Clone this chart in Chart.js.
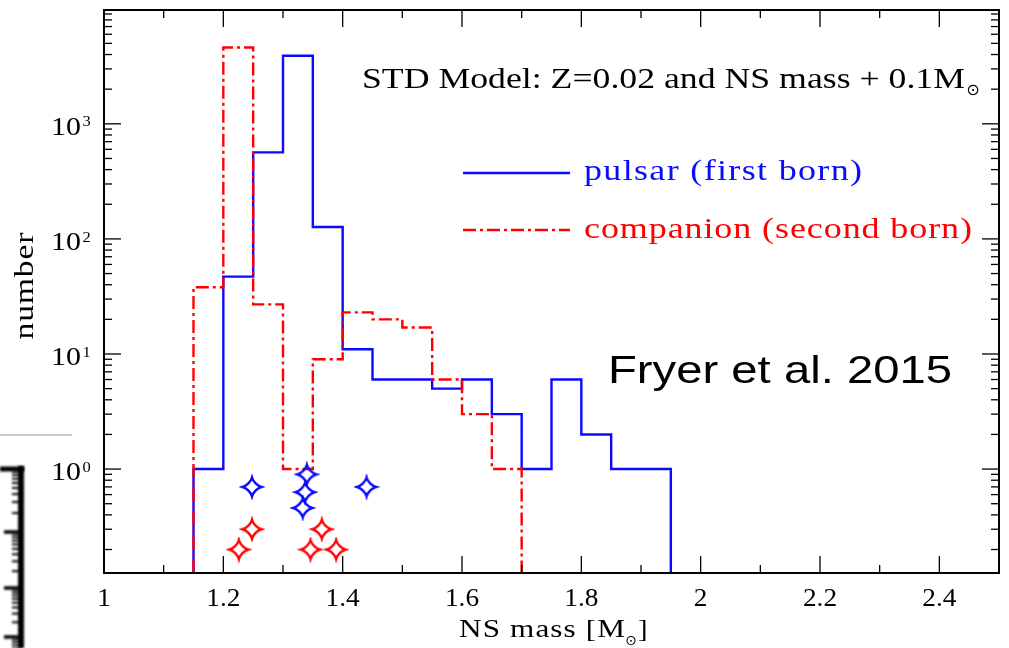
<!DOCTYPE html>
<html lang="en">
<head>
<meta charset="utf-8">
<title>NS mass distribution</title>
<script src="https://cdn.jsdelivr.net/npm/chart.js@4/dist/chart.umd.min.js"></script>
<style>
  html, body { margin: 0; padding: 0; background: #fff; }
  canvas { display: block; }
</style>
</head>
<body>
<canvas id="massChart" width="1009" height="648"></canvas>
<script>
// ======================================================================
//  1. DONNÉES
// ======================================================================

// Bords des classes de masse (largeur 0.05 Msun)
const binEdges = [1.15, 1.20, 1.25, 1.30, 1.35, 1.40, 1.45, 1.50, 1.55,
                  1.60, 1.65, 1.70, 1.75, 1.80, 1.85, 1.90, 1.95];

// Nombre de systèmes par classe
const pulsarCounts    = [1, 47, 565, 3900, 127, 11, 6, 6, 5, 6, 3, 1, 6, 2, 1, 1];
const companionCounts = [38, 4600, 27, 1, 9, 23, 20, 17, 6, 3, 1];

// Masses observées (étoiles), hauteur arbitraire sous l'histogramme
const pulsarObsMass    = [1.248, 1.340, 1.337, 1.333, 1.440];
const pulsarObsY       = [0.70, 0.90, 0.63, 0.46, 0.70];
const companionObsMass = [1.226, 1.248, 1.346, 1.365, 1.389];
const companionObsY    = [0.20, 0.30, 0.20, 0.30, 0.20];

// Graduations
const xTickValues = [1, 1.2, 1.4, 1.6, 1.8, 2, 2.2, 2.4];
const xTickLabels = ["1", "1.2", "1.4", "1.6", "1.8", "2", "2.2", "2.4"];
const yDecades    = [0, 1, 2, 3];

const modelLabel     = "STD Model: Z=0.02 and NS mass + 0.1M";
const pulsarLabel    = "pulsar (first born)";
const companionLabel = "companion (second born)";
const refLabel       = "Fryer et al. 2015";

// Bornes des axes
const X_MIN = 1, X_MAX = 2.5;
const Y_MIN = 0.125, Y_MAX = 9750;

const BLUE = "#0a0aff";
const RED = "#ff0000";
const RED_DASH = [13, 4, 3, 4];

const SERIF = '"Liberation Serif", "DejaVu Serif", serif';
const SANS = '"Liberation Sans", Arial, sans-serif';
const SYMB = '"DejaVu Sans", sans-serif';

// ======================================================================
//  2. FONCTIONS UTILITAIRES
// ======================================================================

// Contour en escalier d'un histogramme (coins de chaque classe)
function histogramPath(edges, counts) {
    const pts = [{ x: edges[0], y: Y_MIN }];
    counts.forEach((c, i) => {
        pts.push({ x: edges[i], y: c });
        pts.push({ x: edges[i + 1], y: c });
    });
    pts.push({ x: edges[counts.length], y: Y_MIN });
    return pts;
}

function zipPoints(xs, ys) {
    return xs.map((x, i) => ({ x, y: ys[i] }));
}

// Étoile à quatre branches (contour seul, côtés concaves)
function makeStar(color) {
    const size = 26;
    const c = document.createElement("canvas");
    c.width = size;
    c.height = size;
    const g = c.getContext("2d");
    const r = 9.5, a = 0.12 * r, b = 0.55 * r;
    g.translate(size / 2, size / 2);
    g.beginPath();
    g.moveTo(0, -r);
    g.bezierCurveTo(a, -b, b, -a, r, 0);
    g.bezierCurveTo(b, a, a, b, 0, r);
    g.bezierCurveTo(-a, b, -b, a, -r, 0);
    g.bezierCurveTo(-b, -a, -a, -b, 0, -r);
    g.closePath();
    g.strokeStyle = color;
    g.lineWidth = 2.4;
    g.lineJoin = "miter";
    g.stroke();
    return c;
}

function line(ctx, x1, y1, x2, y2) {
    ctx.beginPath();
    ctx.moveTo(x1, y1);
    ctx.lineTo(x2, y2);
    ctx.stroke();
}

// Texte avec étirement horizontal + espacement pour tenir une largeur
function drawText(ctx, text, x, y, o) {
    ctx.save();
    ctx.font = o.font;
    ctx.fillStyle = o.color || "#000";
    ctx.textAlign = "left";
    ctx.textBaseline = o.baseline || "alphabetic";
    const natural = ctx.measureText(text).width;
    let sx = o.sx || 1;
    let ls = 0;
    if (o.width) {
        sx = Math.min(o.width / natural, o.maxSx || 1.2);
        if (text.length > 1) ls = (o.width / sx - natural) / (text.length - 1);
    }
    const w = (natural + ls * (text.length - 1)) * sx;
    ctx.translate(x, y);
    if (o.angle) ctx.rotate(o.angle);
    const off = o.align === "center" ? -w / 2 : o.align === "right" ? -w : 0;
    ctx.translate(off, 0);
    ctx.scale(sx, 1);
    ctx.letterSpacing = ls + "px";
    ctx.fillText(text, 0, 0);
    ctx.restore();
    return w;
}

// ======================================================================
//  3. CADRE, GRADUATIONS ET TEXTES
// ======================================================================

const framePlugin = {
    id: "cadre",
    afterDatasetsDraw(chart) {
        const { ctx, chartArea: a, scales: { x, y } } = chart;
        ctx.save();
        ctx.strokeStyle = "#000";
        ctx.lineWidth = 1.3;

        // graduations en x (majeures tous les 0.2, mineures tous les 0.1)
        for (let i = 0; i <= 15; i++) {
            const px = x.getPixelForValue(X_MIN + i * 0.1);
            const len = i % 2 === 0 ? 17 : 8;
            line(ctx, px, a.bottom, px, a.bottom - len);
            line(ctx, px, a.top, px, a.top + len);
        }

        // graduations logarithmiques en y
        for (let d = -1; d <= 3; d++) {
            for (let m = 1; m <= 9; m++) {
                const v = m * Math.pow(10, d);
                if (v < Y_MIN || v > Y_MAX) continue;
                const py = y.getPixelForValue(v);
                const len = m === 1 ? 17 : 8;
                line(ctx, a.left, py, a.left + len, py);
                line(ctx, a.right, py, a.right - len, py);
            }
        }

        ctx.lineWidth = 2;
        ctx.strokeRect(a.left, a.top, a.right - a.left, a.bottom - a.top);

        // légende
        ctx.lineWidth = 2.4;
        ctx.strokeStyle = BLUE;
        line(ctx, 463, 173, 570, 173);
        ctx.strokeStyle = RED;
        ctx.setLineDash(RED_DASH);
        line(ctx, 463, 230, 570, 230);
        ctx.setLineDash([]);
        ctx.restore();
    },

    afterDraw(chart) {
        const { ctx, scales: { x, y } } = chart;
        const tickFont = `26px ${SERIF}`;

        xTickValues.forEach((v, i) => {
            drawText(ctx, xTickLabels[i], x.getPixelForValue(v), 606,
                { font: tickFont, align: "center", sx: 1.05 });
        });

        yDecades.forEach(d => {
            const py = y.getPixelForValue(Math.pow(10, d));
            drawText(ctx, "10", 81, py + 11, { font: tickFont, align: "right", sx: 1.15 });
            drawText(ctx, String(d), 82.5, py + 2.6, { font: `15px ${SERIF}`, sx: 1.1 });
        });

        // titres des axes
        const r = 459 + drawText(ctx, "NS mass [M", 459, 637, { font: tickFont, width: 166 });
        drawText(ctx, "⊙", r + 6, 641.5, { font: `14px ${SYMB}`, align: "center", baseline: "middle" });
        drawText(ctx, "]", r + 13, 637, { font: tickFont, sx: 1.1 });

        drawText(ctx, "number", 33, 286, {
            font: `28px ${SERIF}`, width: 107, align: "center", angle: -Math.PI / 2
        });

        // annotations
        const annoFont = `30px ${SERIF}`;
        const m = 362 + drawText(ctx, modelLabel, 362, 88, { font: annoFont, width: 603 });
        drawText(ctx, "⊙", m + 8, 91, { font: `16px ${SYMB}`, align: "center", baseline: "middle" });

        drawText(ctx, pulsarLabel, 584, 180, { font: annoFont, color: BLUE, width: 278 });
        drawText(ctx, companionLabel, 584, 237.5, { font: annoFont, color: RED, width: 388 });

        drawText(ctx, refLabel, 608, 383, { font: `39px ${SANS}`, width: 344, maxSx: 1.25 });

        drawPanelEdge(ctx);
    }
};

// Bord du panneau voisin (trait gris + règle graduée floue)
function drawPanelEdge(ctx) {
    ctx.save();
    ctx.strokeStyle = "#cccccc";
    ctx.lineWidth = 2;
    line(ctx, 0, 435, 72, 435);

    ctx.filter = "blur(1px)";
    ctx.strokeStyle = "#000";
    ctx.lineWidth = 6;
    line(ctx, 21, 466, 21, 648);
    ctx.lineWidth = 5;
    line(ctx, 0, 469, 24, 469);

    const majors = [469, 532, 588, 637, 690];
    for (let j = 0; j < majors.length - 1; j++) {
        const top = majors[j], bottom = majors[j + 1];
        ctx.lineWidth = 3.5;
        if (j > 0) line(ctx, 4, top, 21, top);
        ctx.lineWidth = 2;
        for (let k = 2; k <= 9; k++) {
            const py = bottom - Math.log10(k) * (bottom - top);
            line(ctx, 12, py, 21, py);
        }
    }
    ctx.restore();
}

// ======================================================================
//  4. GRAPHIQUE
// ======================================================================

const canvas = document.getElementById("massChart");

new Chart(canvas.getContext("2d"), {
    type: "scatter",
    data: {
        datasets: [
            {
                label: "pulsar (first born)",
                data: histogramPath(binEdges, pulsarCounts),
                showLine: true,
                borderColor: BLUE,
                borderWidth: 2.4,
                pointRadius: 0,
                borderJoinStyle: "miter",
                order: 2
            },
            {
                label: "companion (second born)",
                data: histogramPath(binEdges.slice(0, companionCounts.length + 1), companionCounts),
                showLine: true,
                borderColor: RED,
                borderWidth: 2.4,
                borderDash: RED_DASH,
                pointRadius: 0,
                borderJoinStyle: "miter",
                order: 1
            },
            {
                label: "pulsars observés",
                data: zipPoints(pulsarObsMass, pulsarObsY),
                pointStyle: makeStar(BLUE),
                pointRadius: 9,
                order: 0
            },
            {
                label: "compagnons observés",
                data: zipPoints(companionObsMass, companionObsY),
                pointStyle: makeStar(RED),
                pointRadius: 9,
                order: 0
            }
        ]
    },
    options: {
        responsive: false,
        animation: false,
        devicePixelRatio: 1,
        layout: { padding: { left: 104, right: 7, top: 6, bottom: 75 } },
        scales: {
            x: { type: "linear", min: X_MIN, max: X_MAX, display: false },
            y: { type: "logarithmic", min: Y_MIN, max: Y_MAX, display: false }
        },
        plugins: {
            legend: { display: false },
            tooltip: { enabled: false }
        }
    },
    plugins: [framePlugin]
});
</script>
</body>
</html>
